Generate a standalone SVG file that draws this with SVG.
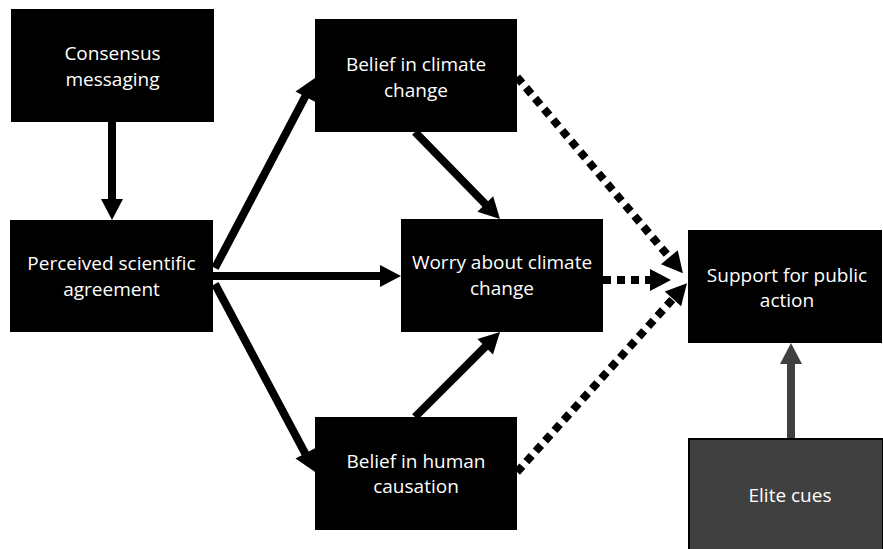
<svg xmlns="http://www.w3.org/2000/svg" width="883" height="549" viewBox="0 0 883 549">
<defs>
<style>
.box{fill:#000;}
.gbox{fill:#404040;stroke:#000;stroke-width:2;}
.t{font-family:"Open Sans","Liberation Sans",Arial,sans-serif;font-size:19px;fill:#fff;text-anchor:middle;}
.solid{stroke:#000;stroke-width:8;fill:none;}
.dot{stroke:#000;stroke-width:8;fill:none;stroke-dasharray:8 6;}
.gray{stroke:#404040;stroke-width:8;fill:none;}
</style>
<marker id="ah" markerUnits="userSpaceOnUse" markerWidth="24" markerHeight="24" viewBox="0 -12 22 24" refX="1" refY="0" orient="auto"><path d="M0,-11 L21,0 L0,11 z" fill="#000"/></marker>
<marker id="ahg" markerUnits="userSpaceOnUse" markerWidth="24" markerHeight="24" viewBox="0 -12 22 24" refX="1" refY="0" orient="auto"><path d="M0,-11 L21,0 L0,11 z" fill="#404040"/></marker>
</defs>
<g id="connectors">
<line class="solid" x1="112" y1="122" x2="112" y2="200" marker-end="url(#ah)"/>
<line class="solid" x1="215" y1="268" x2="305.7" y2="95.7" marker-end="url(#ah)"/>
<line class="solid" x1="213" y1="276" x2="381" y2="276" marker-end="url(#ah)"/>
<line class="solid" x1="215" y1="284" x2="305.7" y2="454.3" marker-end="url(#ah)"/>
<line class="solid" x1="415" y1="132" x2="486" y2="204.7" marker-end="url(#ah)"/>
<line class="solid" x1="415" y1="417" x2="485.9" y2="346.1" marker-end="url(#ah)"/>
<line class="gray" x1="791" y1="439" x2="791" y2="363" marker-end="url(#ahg)"/>
<line class="dot" x1="517" y1="77" x2="670" y2="258" marker-end="url(#ah)"/>
<line class="dot" x1="603" y1="280" x2="651" y2="280" marker-end="url(#ah)"/>
<line class="dot" x1="517" y1="472" x2="673.6" y2="298.1" marker-end="url(#ah)"/>
</g>
<g id="consensus"><rect class="box" x="11" y="9" width="203" height="113"/><text class="t" x="112.5" y="60">Consensus</text><text class="t" x="112.5" y="86">messaging</text></g>
<g id="perceived"><rect class="box" x="10" y="220" width="203" height="112"/><text class="t" x="111.5" y="270">Perceived scientific</text><text class="t" x="111.5" y="296">agreement</text></g>
<g id="belief-climate"><rect class="box" x="315" y="19" width="202" height="113"/><text class="t" x="416" y="71">Belief in climate</text><text class="t" x="416" y="97">change</text></g>
<g id="worry"><rect class="box" x="401" y="219" width="202" height="113"/><text class="t" x="502" y="269">Worry about climate</text><text class="t" x="502" y="295">change</text></g>
<g id="support"><rect class="box" x="688" y="230" width="194" height="113"/><text class="t" x="787" y="282">Support for public</text><text class="t" x="787" y="307">action</text></g>
<g id="belief-human"><rect class="box" x="315" y="417" width="202" height="113"/><text class="t" x="416" y="468">Belief in human</text><text class="t" x="416" y="493">causation</text></g>
<g id="elite"><rect class="gbox" x="689" y="439" width="194" height="115"/><text class="t" x="790" y="502">Elite cues</text></g>
</svg>
